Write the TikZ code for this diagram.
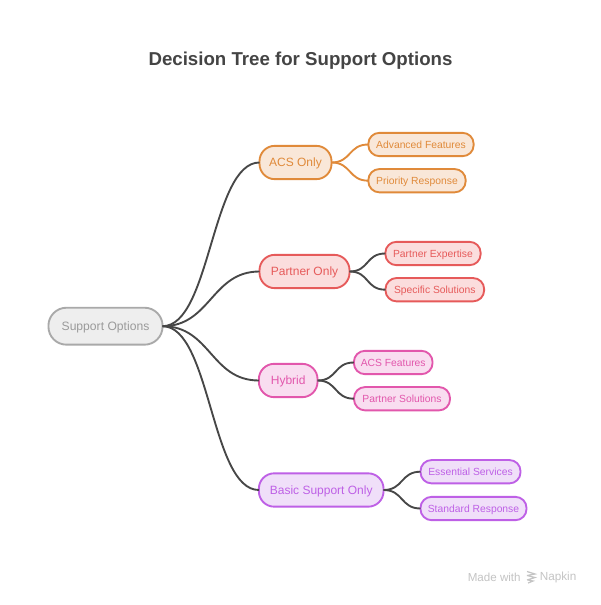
\documentclass[tikz,border=0pt]{standalone}
\usepackage{fontspec}
\setmainfont{Liberation Sans}
\definecolor{orstroke}{HTML}{E08A3A}\definecolor{orfill}{HTML}{F9E7D8}
\definecolor{restroke}{HTML}{E65A5A}\definecolor{refill}{HTML}{FBDDDD}
\definecolor{pistroke}{HTML}{E257AC}\definecolor{pifill}{HTML}{F9DDF0}
\definecolor{pustroke}{HTML}{BE60E6}\definecolor{pufill}{HTML}{F0DFF9}
\definecolor{grstroke}{HTML}{A9A9A9}\definecolor{grfill}{HTML}{EEEEEE}
\definecolor{grtext}{HTML}{9A9A9A}
\definecolor{edgedark}{HTML}{474747}
\definecolor{titlecol}{HTML}{444444}
\definecolor{markcol}{HTML}{C4C4C4}
\tikzset{
  x=0.75pt,y=-0.75pt,
  box/.style={draw=#1stroke,fill=#1fill,text=#1stroke,line width=1.4pt,inner sep=0pt,outer sep=0pt,align=center},
  rootbox/.style={box=gr,text=grtext,minimum height=27.7pt,rounded corners=13.5pt,text height=6.4pt,text depth=0pt,font=\fontsize{9.1pt}{11pt}\selectfont},
  midbox/.style={box=#1,minimum height=25pt,rounded corners=11.5pt,text height=6.4pt,text depth=0pt,font=\fontsize{9pt}{11pt}\selectfont},
  leafbox/.style={box=#1,minimum height=17.5pt,rounded corners=8.3pt,text height=5.6pt,text depth=0pt,font=\fontsize{7.75pt}{10pt}\selectfont},
  link/.style={edgedark,line width=1.4pt,out=0,in=180,distance=#1},
  link/.default=36pt,
  sublink/.style={link=15pt},
}
\begin{document}
\begin{tikzpicture}
\useasboundingbox (0,0) rectangle (600,605);
\fill[white] (0,0) rectangle (600,605);
\node[text=titlecol,font=\bfseries\fontsize{14pt}{18pt}\selectfont] (title) at (300.5,60.5) {Decision Tree for Support Options};

\node[rootbox,minimum width=85.6pt] (root) at (105.5,326.2) {Support Options};

\node[midbox=or,minimum width=54pt] (acs) at (295.5,162.5) {ACS Only};
\node[leafbox=or,minimum width=79pt] (adv) at (421,144.5) {Advanced Features};
\node[leafbox=or,minimum width=73pt] (pri) at (417,180.7) {Priority Response};

\node[midbox=re,minimum width=67.5pt] (par) at (304.5,271.5) {Partner Only};
\node[leafbox=re,minimum width=71.5pt] (pex) at (433,253.5) {Partner Expertise};
\node[leafbox=re,minimum width=74pt] (spe) at (434.8,289.7) {Specific Solutions};

\node[midbox=pi,minimum width=44pt] (hyb) at (288.2,380.5) {Hybrid};
\node[leafbox=pi,minimum width=59pt] (acf) at (393.2,362.5) {ACS Features};
\node[leafbox=pi,minimum width=72pt] (pas) at (402,398.7) {Partner Solutions};

\node[midbox=pu,minimum width=93.5pt] (bas) at (321.2,490) {Basic Support Only};
\node[leafbox=pu,minimum width=75pt] (ess) at (470.5,471.7) {Essential Services};
\node[leafbox=pu,minimum width=79.5pt] (sta) at (473.5,508.5) {Standard Response};

\draw[link] (root.east) to (acs.west);
\draw[link] (root.east) to (par.west);
\draw[link] (root.east) to (hyb.west);
\draw[link] (root.east) to (bas.west);

\draw[sublink,orstroke] (acs.east) to (adv.west);
\draw[sublink,orstroke] (acs.east) to (pri.west);
\draw[sublink] (par.east) to (pex.west);
\draw[sublink] (par.east) to (spe.west);
\draw[sublink] (hyb.east) to (acf.west);
\draw[sublink] (hyb.east) to (pas.west);
\draw[sublink] (bas.east) to (ess.west);
\draw[sublink] (bas.east) to (sta.west);

\node[text=markcol,font=\fontsize{8.7pt}{10pt}\selectfont,anchor=west,inner sep=0pt] (made) at (467.5,577.5) {Made with};
\node[text=markcol,font=\fontsize{8.8pt}{10pt}\selectfont,anchor=west,inner sep=0pt] (nap) at (539.5,577.5) {Napkin};
\draw[markcol,line width=0.9pt] (527,571.5) -- (535,574) -- (527,575.5) (527,575.5) -- (535,577.5) -- (527,580) (528,580) -- (533,581) -- (528,583);
\end{tikzpicture}
\end{document}
